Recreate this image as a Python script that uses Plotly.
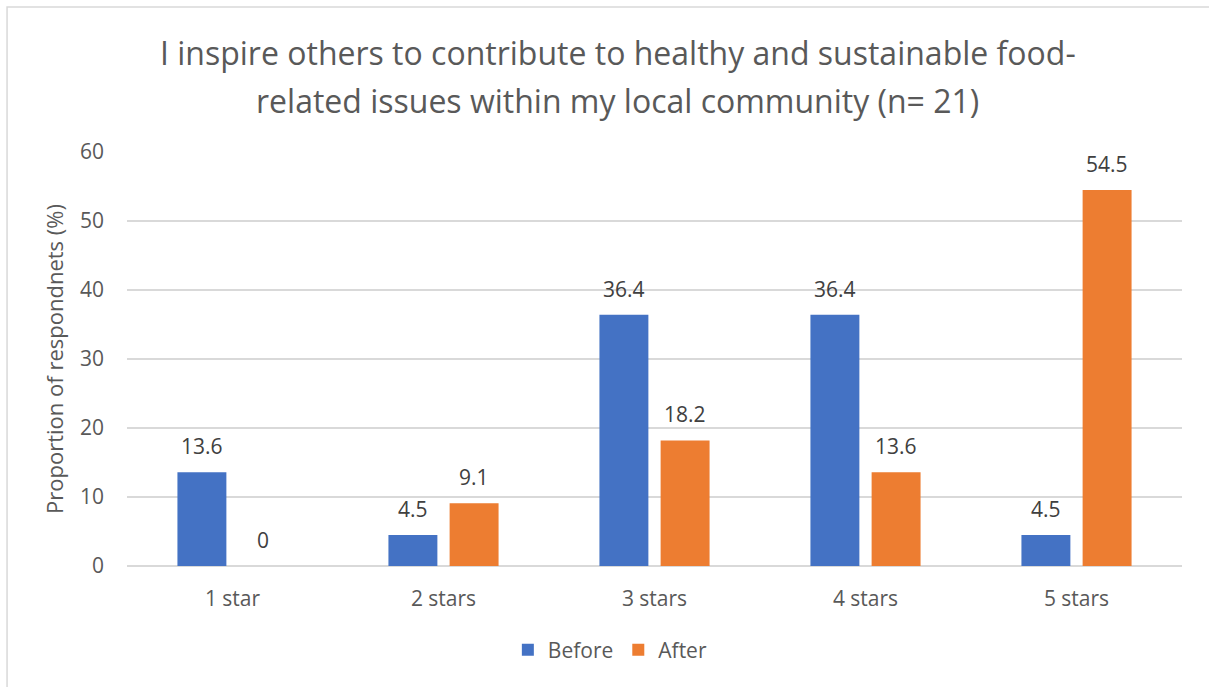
import plotly.graph_objects as go

categories = ["1 star", "2 stars", "3 stars", "4 stars", "5 stars"]
before = [13.6, 4.5, 36.4, 36.4, 4.5]
after = [0, 9.1, 18.2, 13.6, 54.5]
y_ticks = [0, 10, 20, 30, 40, 50, 60]
title_lines = [
    "I inspire others to contribute to healthy and sustainable food-",
    "related issues within my local community (n= 21)",
]

BLUE = "#4472C4"
ORANGE = "#ED7D31"
TEXT = "#595959"
FONT = "Open Sans"

fig = go.Figure()
fig.add_trace(go.Bar(name="Before", x=categories, y=before, marker_color=BLUE,
                     marker_line_width=0))
fig.add_trace(go.Bar(name="After", x=categories, y=after, marker_color=ORANGE,
                     marker_line_width=0))

# value labels placed above each bar
for vals, shift in ((before, -30.5), (after, 30.5)):
    for cat, v in zip(categories, vals):
        fig.add_annotation(x=cat, y=v, text=f"{v:g}", showarrow=False,
                           xshift=shift, yshift=26, yanchor="middle",
                           font=dict(family=FONT, size=21, color="#404040"))

# two-line chart title with wide line spacing
for line, ypos in zip(title_lines, (1.2415, 1.1256)):
    fig.add_annotation(xref="paper", yref="paper", x=0.4652, y=ypos,
                       xanchor="center", yanchor="middle", showarrow=False,
                       text=line, font=dict(family=FONT, size=32, color=TEXT))

# outer chart border
fig.add_shape(type="rect", xref="paper", yref="paper",
              x0=-0.1137, x1=1.03, y0=-0.31, y1=1.350,
              line=dict(color="#D9D9D9", width=1.5), layer="below")

fig.update_layout(
    width=1209, height=687,
    margin=dict(l=127, r=27, t=152, b=121),
    paper_bgcolor="white", plot_bgcolor="white",
    barmode="group", bargap=0.42, bargroupgap=0.2,
    font=dict(family=FONT, color=TEXT),
    xaxis=dict(showline=False, ticks="", tickfont=dict(size=21, color=TEXT),
               showgrid=False, ticklabelstandoff=18),
    yaxis=dict(range=[0, 60], tickvals=y_ticks, showgrid=True,
               gridcolor="#D9D9D9", gridwidth=1.5, zeroline=True,
               zerolinecolor="#D9D9D9", zerolinewidth=1.5,
               tickfont=dict(size=21, color=TEXT), ticklabelstandoff=22,
               title=dict(text="Proportion of respondnets (%)",
                          font=dict(size=22, color=TEXT), standoff=10)),
    legend=dict(orientation="h", x=0.361, xanchor="left", y=-0.203,
                yanchor="middle", font=dict(size=21, color=TEXT),
                itemwidth=30),
    showlegend=True,
)

fig.write_html("out.html")
